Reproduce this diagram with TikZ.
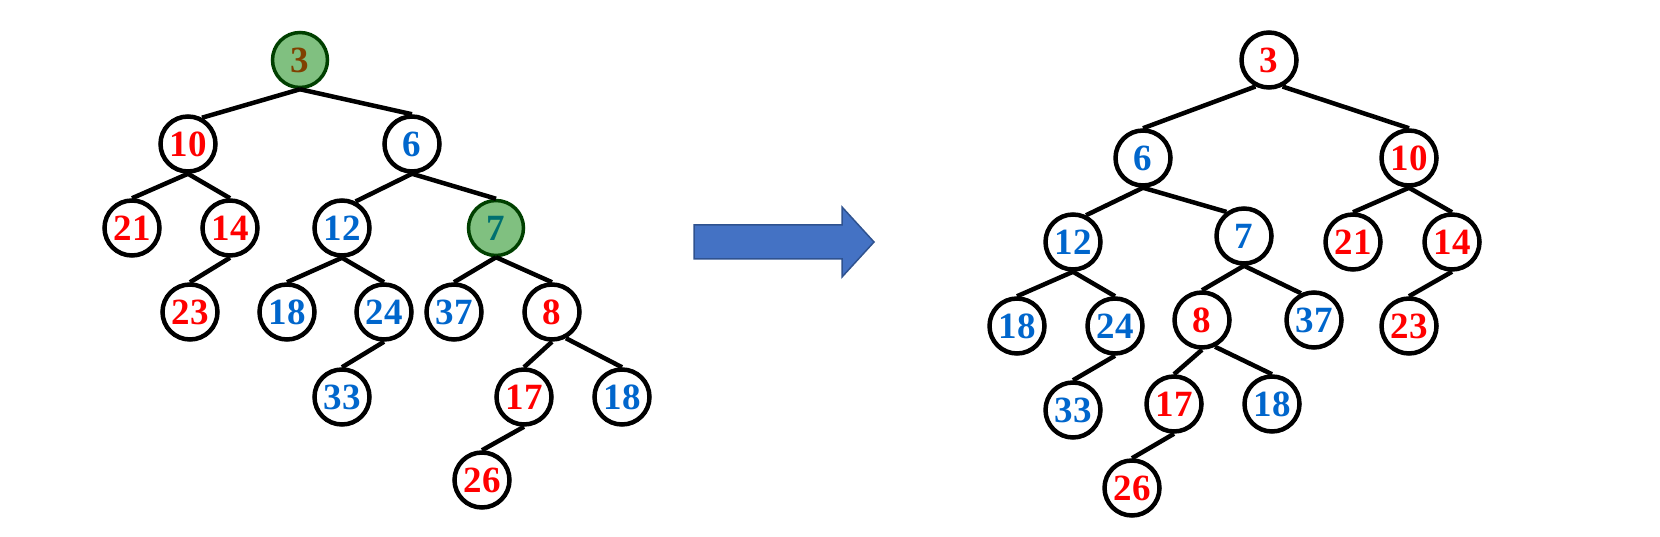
\documentclass[tikz,border=0pt]{standalone}
\usepackage{fontspec}
\setmainfont{Liberation Serif}
\usepackage{tikz}

\definecolor{keyRed}{RGB}{255,0,0}
\definecolor{keyBlue}{RGB}{0,102,204}
\definecolor{markFill}{RGB}{128,192,128}
\definecolor{markLine}{RGB}{0,64,0}
\definecolor{arrowFill}{RGB}{68,114,196}
\definecolor{arrowLine}{RGB}{47,82,143}

\begin{document}
\begin{tikzpicture}
        [x=1pt,
        y=-1pt,
        edge/.style={color=black, line width=4.5pt},
        key/.style={circle,draw=black,fill=white,line width=4.5pt,minimum size=55pt,inner sep=0pt,
                font=\fontsize{37}{40}\selectfont\bfseries},
        redKey/.style={key,text=keyRed},
        blueKey/.style={key,text=keyBlue},
        markedKey/.style={key,draw=markLine,fill=markFill,line width=3.5pt},
        bigArrow/.style={fill=arrowFill,draw=arrowLine,line width=1.5pt,line join=miter}]
%
\useasboundingbox (0,0) rectangle (1660,537);
%%
%% Left tree: the nodes
%%
\node[markedKey,text={rgb,255:red,128;green,64;blue,0}] (l3) at (300,60) {3};
\node[redKey] (l10) at (188,144) {10};
\node[blueKey] (l6) at (412,144) {6};
\node[redKey] (l21) at (132,228) {21};
\node[redKey] (l14) at (230,228) {14};
\node[blueKey] (l12) at (342,228) {12};
\node[markedKey,text={rgb,255:red,0;green,112;blue,112}] (l7) at (496,228) {7};
\node[redKey] (l23) at (190,312) {23};
\node[blueKey] (l18) at (287,312) {18};
\node[blueKey] (l24) at (384,312) {24};
\node[blueKey] (l37) at (454,312) {37};
\node[redKey] (l8) at (552,312) {8};
\node[blueKey] (l33) at (342,397) {33};
\node[redKey] (l17) at (524,397) {17};
\node[blueKey] (l18b) at (622,397) {18};
\node[redKey] (l26) at (482,480) {26};
%%
%% Left tree: the edges
%%
\draw[edge] (l3.south) -- (l10.62);
\draw[edge] (l3.south) -- (l6.north);
\draw[edge] (l10.south) -- (l21.north);
\draw[edge] (l10.south) -- (l14.north);
\draw[edge] (l14.south) -- (l23.north);
\draw[edge] (l6.south) -- (l12.63);
\draw[edge] (l6.south) -- (l7.north);
\draw[edge] (l12.south) -- (l18.north);
\draw[edge] (l12.south) -- (l24.north);
\draw[edge] (l24.south) -- (l33.north);
\draw[edge] (l7.south) -- (l37.north);
\draw[edge] (l7.south) -- (l8.north);
\draw[edge] (l8.south) -- (l17.north);
\draw[edge] (l8.-62) -- (l18b.north);
\draw[edge] (l17.south) -- (l26.north);
%%
%% The arrow
%%
\draw[bigArrow] (694,225) -- (842,225) -- (842,207) -- (874,242) -- (842,277)
        -- (842,259) -- (694,259) -- cycle;
%%
%% Right tree: the nodes
%%
\node[redKey] (r3) at (1269,60) {3};
\node[blueKey] (r6) at (1143,158) {6};
\node[redKey] (r10) at (1409,158) {10};
\node[blueKey] (r12) at (1073,242) {12};
\node[blueKey] (r7) at (1244,236) {7};
\node[redKey] (r21) at (1353,242) {21};
\node[redKey] (r14) at (1452,242) {14};
\node[blueKey] (r18) at (1017,326) {18};
\node[blueKey] (r24) at (1115,326) {24};
\node[redKey] (r8) at (1202,320) {8};
\node[blueKey] (r37) at (1314,320) {37};
\node[redKey] (r23) at (1409,326) {23};
\node[blueKey] (r33) at (1073,410) {33};
\node[redKey] (r17) at (1174,404) {17};
\node[blueKey] (r18b) at (1272,404) {18};
\node[redKey] (r26) at (1132,488) {26};
%%
%% Right tree: the edges
%%
\draw[edge] (r3.-117) -- (r6.north);
\draw[edge] (r3.-63) -- (r10.north);
\draw[edge] (r6.south) -- (r12.64);
\draw[edge] (r6.south) -- (r7.126);
\draw[edge] (r12.south) -- (r18.north);
\draw[edge] (r12.south) -- (r24.north);
\draw[edge] (r24.south) -- (r33.north);
\draw[edge] (r7.south) -- (r8.north);
\draw[edge] (r7.south) -- (r37.116);
\draw[edge] (r8.south) -- (r17.north);
\draw[edge] (r8.-64) -- (r18b.north);
\draw[edge] (r17.south) -- (r26.north);
\draw[edge] (r10.south) -- (r21.north);
\draw[edge] (r10.south) -- (r14.north);
\draw[edge] (r14.south) -- (r23.north);

\end{tikzpicture}
\end{document}
